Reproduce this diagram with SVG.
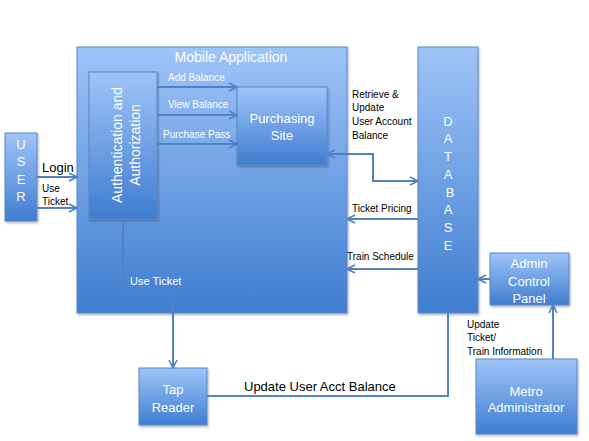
<svg xmlns="http://www.w3.org/2000/svg" width="589" height="441" viewBox="0 0 589 441">
<defs>
<linearGradient id="g" x1="0" y1="0" x2="0" y2="1">
<stop offset="0" stop-color="#9fc4f8"/>
<stop offset="1" stop-color="#3f7dd0"/>
</linearGradient>
<marker id="ah" viewBox="0 0 10 10" refX="9" refY="5" markerWidth="10" markerHeight="10" markerUnits="userSpaceOnUse" orient="auto-start-reverse">
<path d="M1,1 L9,5 L1,9" fill="none" stroke="#4f81c4" stroke-width="1.6"/>
</marker>
<filter id="sh" x="-10%" y="-10%" width="130%" height="130%">
<feDropShadow dx="1" dy="1.5" stdDeviation="1" flood-color="#000" flood-opacity="0.3"/>
</filter>
</defs>
<style>
.box{fill:url(#g);stroke:#5a88c8;stroke-width:1;filter:url(#sh)}
.wt{fill:#fff;font-family:"Liberation Sans",Arial,sans-serif;font-size:13px}
.wl{fill:#fff;font-family:"Liberation Sans",Arial,sans-serif;font-size:14px}
.ws{fill:#fff;font-family:"Liberation Sans",Arial,sans-serif;font-size:10px}
.bt{fill:#000;font-family:"Liberation Sans",Arial,sans-serif;font-size:10px}
.bl{fill:#000;font-family:"Liberation Sans",Arial,sans-serif;font-size:13px}
.c{fill:none;stroke:#4f81c4;stroke-width:2}
</style>
<g id="mobile-app">
<rect class="box" x="77" y="47" width="270" height="266"/>
<text class="wl" x="231" y="62" text-anchor="middle">Mobile Application</text>
</g>
<g id="auth">
<rect class="box" x="89" y="72" width="68" height="147"/>
<text class="wl" transform="translate(123,145) rotate(-90)" text-anchor="middle"><tspan x="0" y="-1">Authentication and</tspan><tspan x="0" y="17">Authorization</tspan></text>
</g>
<g id="purchasing">
<rect class="box" x="237" y="87" width="90" height="78"/>
<text class="wt" text-anchor="middle"><tspan x="282" y="123">Purchasing</tspan><tspan x="282" y="140">Site</tspan></text>
</g>
<g id="user">
<rect class="box" x="5" y="133" width="32" height="88"/>
<text class="wt" text-anchor="middle"><tspan x="21" y="149">U</tspan><tspan x="21" y="166">S</tspan><tspan x="21" y="184">E</tspan><tspan x="21" y="201">R</tspan></text>
</g>
<g id="database">
<rect class="box" x="418" y="47" width="60" height="266"/>
<text class="wt" text-anchor="middle"><tspan x="448" y="126">D</tspan><tspan x="448" y="143">A</tspan><tspan x="448" y="161">T</tspan><tspan x="448" y="179">A</tspan><tspan x="450" y="197">B</tspan><tspan x="448" y="214">A</tspan><tspan x="448" y="232">S</tspan><tspan x="448" y="250">E</tspan></text>
</g>
<g id="admin-panel">
<rect class="box" x="490" y="253" width="79" height="52"/>
<text class="wt" text-anchor="middle"><tspan x="529" y="268">Admin</tspan><tspan x="529" y="286">Control</tspan><tspan x="529" y="303">Panel</tspan></text>
</g>
<g id="tap-reader">
<rect class="box" x="139" y="368" width="68" height="57"/>
<text class="wt" text-anchor="middle"><tspan x="173" y="394">Tap</tspan><tspan x="173" y="412">Reader</tspan></text>
</g>
<g id="metro-admin">
<rect class="box" x="476" y="359" width="101" height="75"/>
<text class="wt" text-anchor="middle"><tspan x="526" y="396">Metro</tspan><tspan x="526" y="412">Administrator</tspan></text>
</g>
<g id="connectors">
<line class="c" x1="37" y1="177" x2="77" y2="177" marker-end="url(#ah)"/>
<line class="c" x1="37" y1="208" x2="77" y2="208" marker-end="url(#ah)"/>
<line class="c" x1="157" y1="87" x2="237" y2="87" marker-end="url(#ah)"/>
<line class="c" x1="157" y1="115" x2="237" y2="115" marker-end="url(#ah)"/>
<line class="c" x1="157" y1="144" x2="237" y2="144" marker-end="url(#ah)"/>
<polyline class="c" points="327,154 373,154 373,181 418,181" marker-start="url(#ah)" marker-end="url(#ah)"/>
<line class="c" x1="418" y1="219" x2="347" y2="219" marker-end="url(#ah)"/>
<line class="c" x1="418" y1="269" x2="347" y2="269" marker-end="url(#ah)"/>
<line class="c" x1="490" y1="279" x2="478" y2="279" marker-end="url(#ah)"/>
<line class="c" x1="553" y1="359" x2="553" y2="305" marker-end="url(#ah)"/>
<polyline class="c" points="123,219 123,295 173,295 173,368" marker-end="url(#ah)"/>
<polyline class="c" points="207,396 448,396 448,313"/>
</g>
<g id="labels">
<text class="ws" x="168" y="81">Add Balance</text>
<text class="ws" x="168" y="108">View Balance</text>
<text class="ws" x="163" y="138">Purchase Pass</text>
<text class="bl" x="42" y="172">Login</text>
<text class="bt"><tspan x="42" y="192">Use</tspan><tspan x="42" y="205">Ticket</tspan></text>
<text class="ws" x="130" y="285" style="font-size:11px">Use Ticket</text>
<text class="bt"><tspan x="352" y="98">Retrieve &amp;</tspan><tspan x="352" y="111">Update</tspan><tspan x="352" y="125">User Account</tspan><tspan x="352" y="139">Balance</tspan></text>
<text class="bt" x="352" y="212">Ticket Pricing</text>
<text class="bt" x="347" y="260">Train Schedule</text>
<text class="bt"><tspan x="467" y="328">Update</tspan><tspan x="467" y="341">Ticket/</tspan><tspan x="467" y="355">Train Information</tspan></text>
<text class="bl" x="244" y="391">Update User Acct Balance</text>
</g>
</svg>
